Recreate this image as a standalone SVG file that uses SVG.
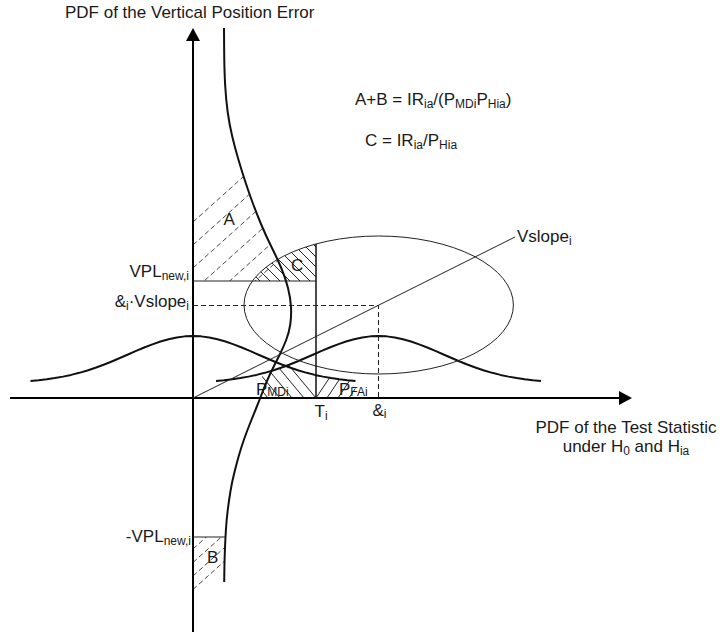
<svg xmlns="http://www.w3.org/2000/svg" width="720" height="633" viewBox="0 0 720 633">
<style>
text { font-family: "Liberation Sans", Arial, sans-serif; font-size: 17px; fill: #1a1a1a; }
.sub { font-size: 12px; }
.axis { stroke: #000; stroke-width: 2; fill: none; }
.thick { stroke: #111; stroke-width: 2; fill: none; stroke-linejoin: round; }
.thin { stroke: #222; stroke-width: 1; fill: none; }
.mid { stroke: #111; stroke-width: 1.5; fill: none; }
.dash { stroke: #222; stroke-width: 1; stroke-dasharray: 5 3; fill: none; }
.hatch { stroke: #222; stroke-width: 1; fill: none; }
.hatchd { stroke: #333; stroke-width: 0.9; stroke-dasharray: 5 3; fill: none; }
</style>
<defs>
<marker id="arrow" markerUnits="userSpaceOnUse" markerWidth="14" markerHeight="14" refX="0" refY="7" orient="auto" viewBox="0 0 14 14">
<path d="M0,0 L13,7 L0,14 Z" fill="#000"/>
</marker>
<path id="bell" d="M-162.5,380.94 L-154.38,380.2 L-146.25,379.26 L-138.13,378.09 L-130,376.64 L-121.88,374.9 L-113.75,372.84 L-105.63,370.45 L-97.5,367.74 L-89.38,364.74 L-81.25,361.48 L-73.13,358.04 L-65,354.49 L-56.88,350.95 L-48.75,347.52 L-40.63,344.34 L-32.5,341.52 L-24.38,339.19 L-16.25,337.45 L-8.13,336.37 L0,336 L8.13,336.37 L16.25,337.45 L24.38,339.19 L32.5,341.52 L40.63,344.34 L48.75,347.52 L56.88,350.95 L65,354.49 L73.13,358.04 L81.25,361.48 L89.38,364.74 L97.5,367.74 L105.63,370.45 L113.75,372.84 L121.88,374.9 L130,376.64 L138.13,378.09 L146.25,379.26 L154.38,380.2 L162.5,380.94"/>
<clipPath id="clipA"><path d="M193,100 L226,100 L229.5,125 L235,148 L241.5,170 L248,190 L256,212 L266,236 L277,258 L285.5,278 L286.5,281 L193,281 Z"/></clipPath>
<clipPath id="clipB"><path d="M193,537 L226,537 L225.3,540 L224.5,560 L224.2,582 L224,600 L193,600 Z"/></clipPath>
<clipPath id="clipC"><path d="M252.4,281 A134.7,69 0 0,1 316,244 L316,281 Z"/></clipPath>
<clipPath id="clipMD"><path d="M262,398 L262,374 L264.8,372.8 L272.9,370.5 L281,367.7 L289.1,364.7 L297.3,361.5 L305.4,358 L313.5,354.5 L316,353.4 L316,398 Z"/></clipPath>
<clipPath id="clipFA"><path d="M316,398 L316,375.2 L323,376.6 L331.1,378.1 L339.3,379.3 L347.4,380.2 L355.5,380.9 L355.5,398 Z"/></clipPath>
</defs>

<g id="hatch-A" clip-path="url(#clipA)">
<path class="hatchd" d="M193,222 L303,123 M193,245 L303,146 M193,268 L303,169 M193,291 L303,192 M193,314 L303,215 M193,337 L303,238"/>
</g>
<g id="hatch-B" clip-path="url(#clipB)">
<path class="hatchd" d="M193,549 L233,513 M193,562.5 L233,526.5 M193,576 L233,540 M193,589.5 L233,553.5"/>
</g>
<g id="hatch-C" clip-path="url(#clipC)">
<path class="hatch" d="M240,171 L330,261 M240,181 L330,271 M240,191 L330,281 M240,201 L330,291 M240,211 L330,301 M240,221 L330,311 M240,231 L330,321 M240,241 L330,331 M240,251 L330,341 M240,261 L330,351"/>
</g>
<g id="hatch-PMD" clip-path="url(#clipMD)">
<path class="hatch" d="M256,326 L321,404 M244,326 L309,404 M232,326 L297,404 M220,326 L285,404 M208,326 L273,404 M196,326 L261,404"/>
</g>
<g id="hatch-PFA" clip-path="url(#clipFA)">
<path class="hatch" d="M312,404 L340,362 M323,404 L351,362 M334,404 L362,362 M345,404 L373,362"/>
</g>

<g id="axes">
<line class="axis" x1="193" y1="632" x2="193" y2="41" marker-end="url(#arrow)"/>
<line class="axis" x1="10" y1="398" x2="619" y2="398" marker-end="url(#arrow)"/>
</g>

<g id="curves">
<path id="vpe-pdf" class="thick" d="M224,28 L224.15,49 Q224.3,70 225.15,85 T227.75,112.5 T232.25,136.5 T238.25,159 T244.75,180 T252,201 T261,224 T271.5,247 T281.25,268 T288,288 T291,307 T290.25,324.5 T286,340.5 T279.75,354.5 T273,368 T266.75,381.5 T261.75,394 T256.25,408 T250,423.5 T244,439.5 T238.75,456 T234.25,473 T230.5,491 T227.75,510 T225.9,530 T224.9,550 T224.35,571 L224.2,582"/>
<use id="pdf-H0" href="#bell" class="thick" transform="translate(193,0)"/>
<use id="pdf-Hia" href="#bell" class="thick" transform="translate(378.5,0)"/>
<ellipse id="ellipse" class="thin" cx="378.7" cy="305" rx="134.7" ry="69"/>
</g>

<g id="lines">
<line id="vslope" class="thin" x1="193" y1="398" x2="515" y2="237"/>
<line id="vpl" class="thin" x1="193" y1="281" x2="316" y2="281"/>
<line id="neg-vpl" class="thin" x1="193" y1="537" x2="225.5" y2="537"/>
<line id="threshold" class="mid" x1="316" y1="244" x2="316" y2="398"/>
<path id="delta-dash" class="dash" d="M193,305.5 L378.5,305.5 L378.5,398"/>
</g>

<g id="labels">
<text x="65" y="18">PDF of the Vertical Position Error</text>
<text x="355" y="105">A+B = IR<tspan class="sub" dy="3">ia</tspan><tspan dy="-3">/(P</tspan><tspan class="sub" dy="3">MDi</tspan><tspan dy="-3">P</tspan><tspan class="sub" dy="3">Hia</tspan><tspan dy="-3">)</tspan></text>
<text x="365" y="146">C = IR<tspan class="sub" dy="3">ia</tspan><tspan dy="-3">/P</tspan><tspan class="sub" dy="3">Hia</tspan></text>
<text x="517" y="242">Vslope<tspan class="sub" dy="3">i</tspan></text>
<text x="189" y="277" text-anchor="end">VPL<tspan class="sub" dy="3">new,i</tspan></text>
<text x="189" y="307" text-anchor="end">&amp;<tspan class="sub" dy="3">i</tspan><tspan dy="-3">·Vslope</tspan><tspan class="sub" dy="3">i</tspan></text>
<text x="191" y="542" text-anchor="end">-VPL<tspan class="sub" dy="3">new,i</tspan></text>
<text x="223.5" y="225">A</text>
<text x="291" y="271">C</text>
<text x="207" y="563">B</text>
<text x="256" y="395">P<tspan class="sub" dy="1">MDi</tspan></text>
<text x="339" y="395">P<tspan class="sub" dy="1">FAi</tspan></text>
<text x="314.5" y="417">T<tspan class="sub" dy="3">i</tspan></text>
<text x="372.5" y="416">&amp;<tspan class="sub" dy="2">i</tspan></text>
<text x="626" y="433" text-anchor="middle">PDF of the Test Statistic</text>
<text x="626" y="452" text-anchor="middle">under H<tspan class="sub" dy="3">0</tspan><tspan dy="-3"> and H</tspan><tspan class="sub" dy="3">ia</tspan></text>
</g>
</svg>
